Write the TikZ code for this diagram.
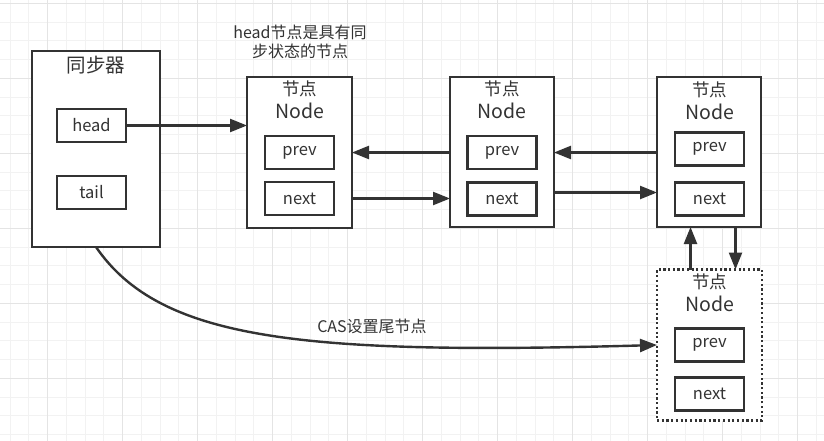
\documentclass[tikz,border=0pt]{standalone}
\usepackage{fontspec}
\setmainfont{Noto Sans CJK SC}
\usetikzlibrary{arrows.meta}
\definecolor{ink}{HTML}{333333}
\definecolor{gridminor}{HTML}{F2F2F2}
\definecolor{gridmajor}{HTML}{E4E4E4}
\tikzset{
  box/.style={draw=ink, line width=2.3pt, fill=white, inner sep=0pt, outer sep=0pt},
  field/.style={box, minimum width=69pt, minimum height=33pt, text=ink, font=\fontsize{16.5}{18}\selectfont},
  nodebox/.style={box, minimum width=105pt, minimum height=151pt},
  cn/.style={text=ink, inner sep=0pt, font=\fontsize{17.5}{20}\selectfont},
  en/.style={text=ink, inner sep=0pt, font=\fontsize{19.5}{22}\selectfont},
  note/.style={text=ink, inner sep=0pt, align=center, font=\fontsize{16}{19}\selectfont},
  link/.style={draw=ink, line width=2.4pt, -{Triangle[length=17pt,width=13pt]}},
}
\begin{document}
\begin{tikzpicture}[x=1pt,y=-1pt]
\useasboundingbox (0,0) rectangle (824,441);
\fill[white] (0,0) rectangle (824,441);
% grid
\foreach \i in {0,...,43} \draw[gridminor, line width=1pt] ({10.2+18.75*\i},0) -- ({10.2+18.75*\i},441);
\foreach \i in {0,...,23} \draw[gridminor, line width=1pt] (0,{3.3+18.75*\i}) -- (824,{3.3+18.75*\i});
\foreach \i in {0,...,10} \draw[gridmajor, line width=1pt] ({47.7+75*\i},0) -- ({47.7+75*\i},441);
\foreach \i in {0,...,5} \draw[gridmajor, line width=1pt] (0,{3.3+75*\i}) -- (824,{3.3+75*\i});

% synchronizer
\node[box, minimum width=128pt, minimum height=196pt] (sync) at (96,149) {};
\node[cn, font=\fontsize{19.5}{22}\selectfont] (syncT) at (96,65) {同步器};
\node[field] (head) at (91.5,125.5) {head};
\node[field] (tail) at (91.5,192.5) {tail};

% annotation
\node[note] (noteT) at (300,41.5) {head节点是具有同\\步状态的节点};

% node 1
\node[nodebox] (node1) at (299.5,152.5) {};
\node[cn] (n1a) at (299.5,89) {节点};
\node[en] (n1b) at (299.5,111) {Node};
\node[field] (prev1) at (299.5,152.5) {prev};
\node[field] (next1) at (299.5,198.5) {next};

% node 2
\node[nodebox, minimum width=104pt, minimum height=150pt] (node2) at (502,152) {};
\node[cn] (n2a) at (502,89) {节点};
\node[en] (n2b) at (502,111) {Node};
\node[field] (prev2) at (502,152.5) {prev};
\node[field] (next2) at (502,199) {next};

% node 3
\node[nodebox, minimum width=104pt, minimum height=150pt] (node3) at (709,152) {};
\node[cn] (n3a) at (709.5,89.5) {节点};
\node[en] (n3b) at (709.5,111.5) {Node};
\node[field] (prev3) at (709.5,149) {prev};
\node[field] (next3) at (709.5,199) {next};

% node 4 (dotted)
\node[nodebox, dash pattern=on 2.2pt off 2.5pt] (node4) at (709.5,345) {};
\node[cn] (n4a) at (709.5,282) {节点};
\node[en] (n4b) at (709.5,303.5) {Node};
\node[field] (prev4) at (709.5,345) {prev};
\node[field] (next4) at (709.5,394) {next};

% connectors
\coordinate (r23) at (0,192.5);
\coordinate (upx) at (690.5,0);
\coordinate (dnx) at (735.5,0);
\draw[link] (head.east) -- (head.east -| node1.west);
\draw[link] (prev1.center -| node2.west) -- (prev1.center -| node1.east);
\draw[link] (next1.center -| node1.east) -- (next1.center -| node2.west);
\draw[link] (prev2.center -| node3.west) -- (prev2.center -| node2.east);
\draw[link] (r23 -| node2.east) -- (r23 -| node3.west);
\draw[link] (upx |- node4.north) -- (upx |- node3.south);
\draw[link] (dnx |- node3.south) -- (dnx |- node4.north);
\draw[link] (sync.south) .. controls (160,340) and (300,355) .. (node4.west);
\node[note] (casL) at (372,326) {CAS设置尾节点};
\end{tikzpicture}
\end{document}
